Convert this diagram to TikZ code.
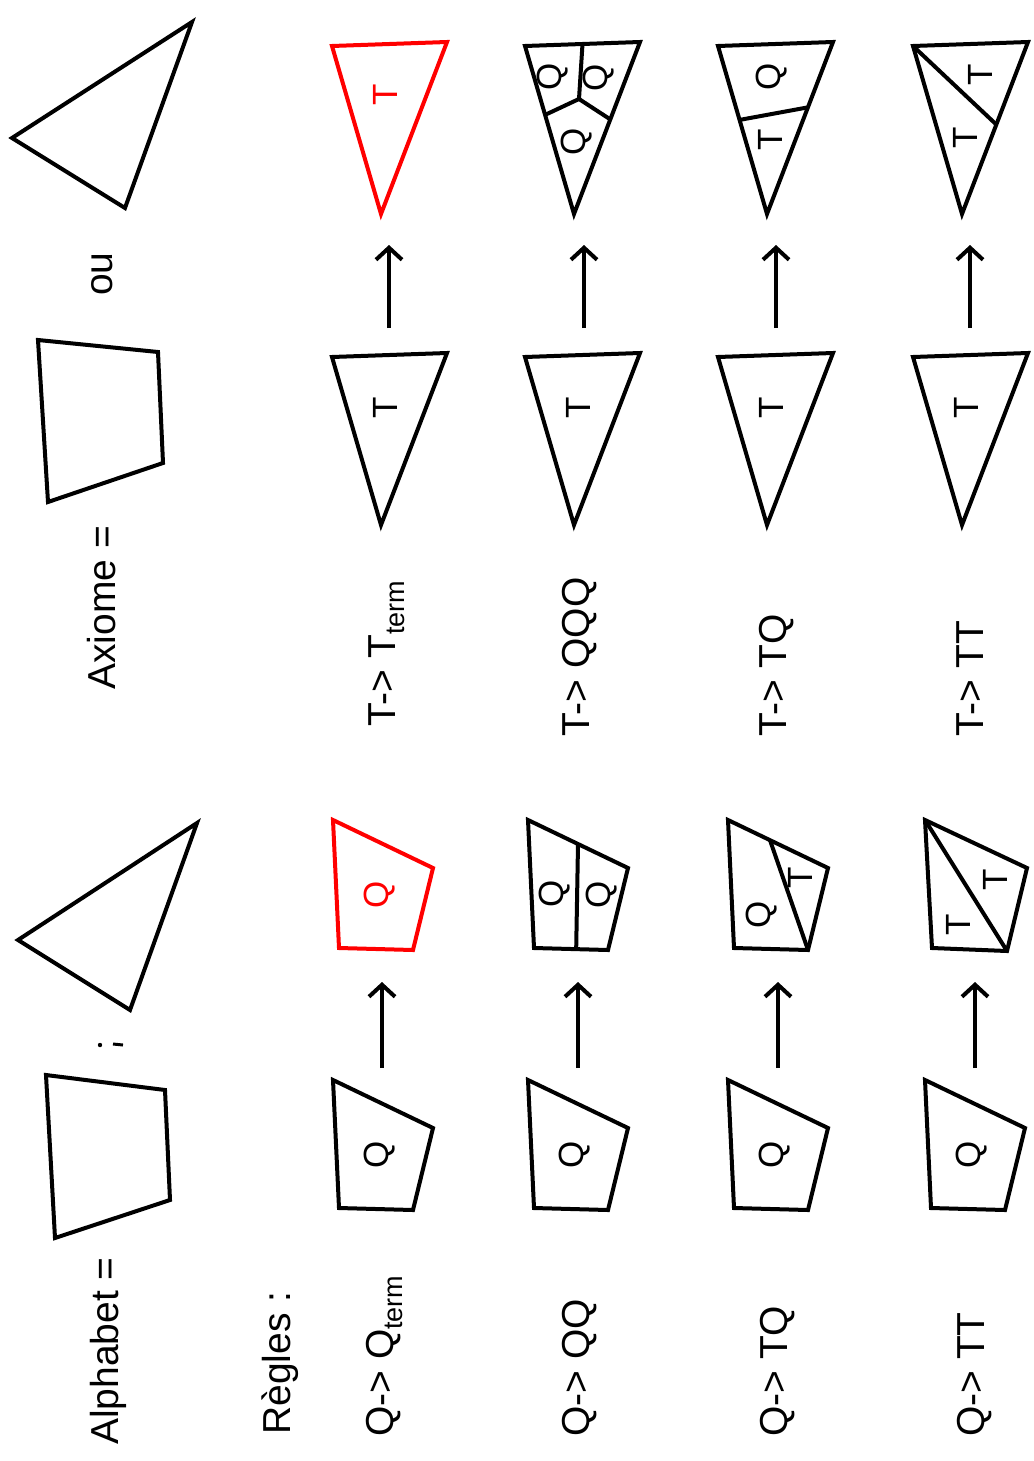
\documentclass[tikz,border=0pt]{standalone}
\usepackage{fontspec}
\setmainfont{Liberation Sans}
\usetikzlibrary{arrows.meta,calc}
\begin{document}
\begin{tikzpicture}[x=1pt,y=-1pt,
  shp/.style={line width=4pt,line join=miter},
  lbl/.style={rotate=90,font=\fontsize{39}{40}\selectfont,inner sep=0pt,anchor=west},
  sym/.style={rotate=90,font=\fontsize{35}{36}\selectfont,inner sep=0pt},
  arr/.style={line width=4pt,-{Straight Barb[length=12pt,width=26pt,line width=4pt]}}]
\useasboundingbox (0,0) rectangle (1033,1461);

% ---------- header ----------
\node[lbl] (alpha) at (108,1445) {Alphabet =};
\node[lbl] (axiome) at (102,690) {Axiome =};
\node[lbl] (ou) at (102,296) {ou};
\node[lbl] (regles) at (280,1435) {Règles :};
\fill (100,1045) circle (2.2);
\draw[line width=3pt] (113,1044) -- (123,1045);

\draw[shp] (46,1075) -- (165,1090) -- (170,1200) -- (55,1238) -- cycle;
\draw[shp] (18,940) -- (197,823) -- (130,1010) -- cycle;
\draw[shp] (38,340) -- (158,352) -- (163,463) -- (48,502) -- cycle;
\draw[shp] (12,138) -- (192,22) -- (125,208) -- cycle;

% ---------- rule labels ----------
\node[lbl] (rq1) at (385,1437) {Q-> Q\raisebox{-9pt}{\fontsize{27}{28}\selectfont term}};
\node[lbl] (rq2) at (580,1437) {Q-> QQ};
\node[lbl] (rq3) at (778,1437) {Q-> TQ};
\node[lbl] (rq4) at (975,1437) {Q-> TT};
\node[lbl] (rt1) at (387,727) {T-> T\raisebox{-9pt}{\fontsize{27}{28}\selectfont term}};
\node[lbl] (rt2) at (580,737) {T-> QQQ};
\node[lbl] (rt3) at (777,737) {T-> TQ};
\node[lbl] (rt4) at (970,737) {T-> TT};

% ---------- Q rules: source quads ----------
\foreach \x/\i in {333/1,528/2,728/3,925/4}{
  \begin{scope}[shift={(\x,1080)}]
    \draw[shp] (0,0) -- (100,48) -- (80,130) -- (6,128) -- cycle;
    \node[sym] (qs\i) at (47,75) {Q};
  \end{scope}
}
% targets
\begin{scope}[shift={(333,820)}]
  \draw[shp,red] (0,0) -- (100,48) -- (80,130) -- (6,128) -- cycle;
  \node[sym,red] (qt1) at (47,75) {Q};
\end{scope}
\begin{scope}[shift={(528,820)}]
  \coordinate (A) at (0,0); \coordinate (B) at (100,48);
  \coordinate (C) at (80,130); \coordinate (D) at (6,128);
  \draw[shp] (A) -- (B) -- (C) -- (D) -- cycle;
  \draw[shp] ($(A)!0.5!(B)$) -- ($(D)!0.57!(C)$);
  \node[sym] (qt2a) at (27,74) {Q};
  \node[sym] (qt2b) at (74,75) {Q};
\end{scope}
\begin{scope}[shift={(728,820)}]
  \coordinate (A) at (0,0); \coordinate (B) at (100,48);
  \coordinate (C) at (80,130); \coordinate (D) at (6,128);
  \draw[shp] (A) -- (B) -- (C) -- (D) -- cycle;
  \draw[shp] ($(A)!0.42!(B)$) -- (C);
  \node[sym] (qt3a) at (34,95) {Q};
  \node[sym] (qt3b) at (72,58) {T};
\end{scope}
\begin{scope}[shift={(925,820)}]
  \coordinate (A) at (0,0); \coordinate (B) at (102,48);
  \coordinate (C) at (82,131); \coordinate (D) at (7,128);
  \draw[shp] (A) -- (B) -- (C) -- (D) -- cycle;
  \draw[shp] (A) -- (C);
  \node[sym] (qt4a) at (70,60) {T};
  \node[sym] (qt4b) at (33,105) {T};
\end{scope}

% Q arrows
\foreach \x/\i in {382/1,578/2,778/3,975/4}{
  \coordinate (qa\i) at (\x,1068);
  \coordinate (qb\i) at (\x,982);
  \draw[arr] (qa\i) -- (qb\i);
}

% ---------- T rules: source triangles ----------
\foreach \x/\i in {332/1,525/2,718/3,913/4}{
  \begin{scope}[shift={(\x,357)}]
    \draw[shp] (0,0) -- (115,-4) -- (49,168) -- cycle;
    \node[sym] (ts\i) at (53,51) {T};
  \end{scope}
}
% targets
\begin{scope}[shift={(332,46)}]
  \draw[shp,red] (0,0) -- (115,-4) -- (49,168) -- cycle;
  \node[sym,red] (tt1) at (53,49) {T};
\end{scope}
\begin{scope}[shift={(525,46)}]
  \coordinate (A) at (0,0); \coordinate (B) at (115,-4); \coordinate (C) at (49,168);
  \draw[shp] (A) -- (B) -- (C) -- cycle;
  \coordinate (M) at (54,53);
  \draw[shp] ($(A)!0.5!(B)$) -- (M) -- ($(A)!0.41!(C)$);
  \draw[shp] (M) -- ($(B)!0.45!(C)$);
  \node[sym] (tt2a) at (28,31) {Q};
  \node[sym] (tt2b) at (74,32) {Q};
  \node[sym] (tt2c) at (52,96) {Q};
\end{scope}
\begin{scope}[shift={(718,46)}]
  \coordinate (A) at (0,0); \coordinate (B) at (115,-4); \coordinate (C) at (49,168);
  \draw[shp] (A) -- (B) -- (C) -- cycle;
  \draw[shp] ($(A)!0.44!(C)$) -- ($(B)!0.38!(C)$);
  \node[sym] (tt3a) at (54,31) {Q};
  \node[sym] (tt3b) at (52,94) {T};
\end{scope}
\begin{scope}[shift={(913,46)}]
  \coordinate (A) at (0,0); \coordinate (B) at (115,-4); \coordinate (C) at (49,168);
  \draw[shp] (A) -- (B) -- (C) -- cycle;
  \draw[shp] (A) -- ($(B)!0.48!(C)$);
  \node[sym] (tt4a) at (67,29) {T};
  \node[sym] (tt4b) at (52,92) {T};
\end{scope}

% T arrows
\foreach \x/\i in {389/1,584/2,776/3,970/4}{
  \coordinate (ta\i) at (\x,328);
  \coordinate (tb\i) at (\x,245);
  \draw[arr] (ta\i) -- (tb\i);
}
\end{tikzpicture}
\end{document}
